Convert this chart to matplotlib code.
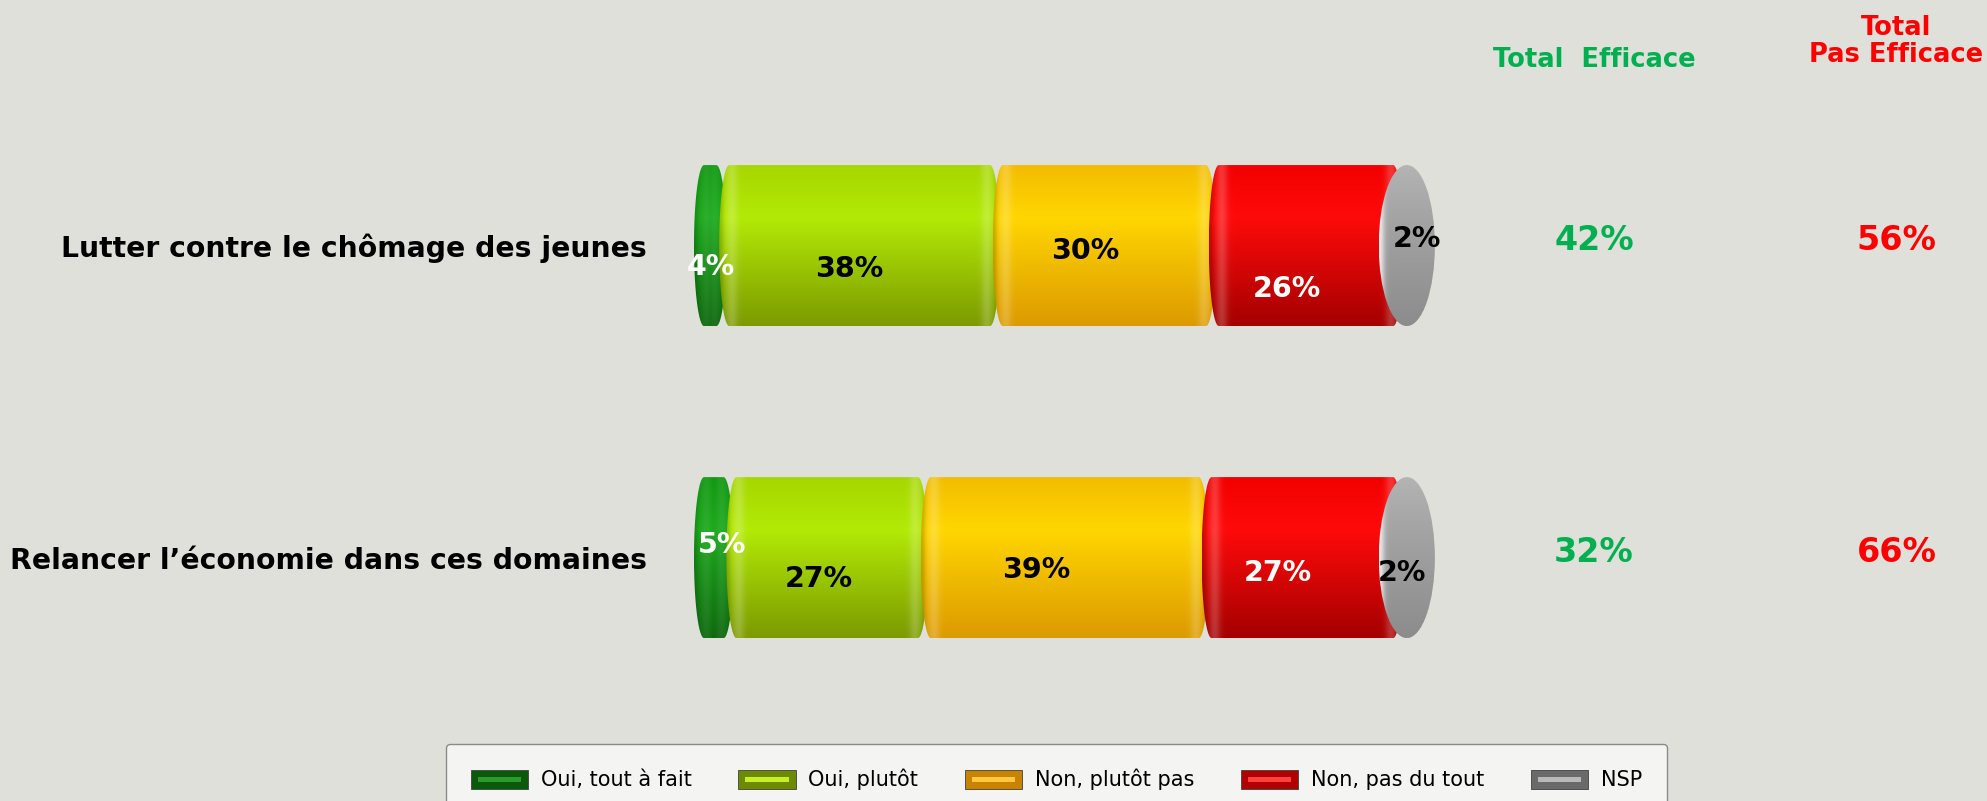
import numpy as np
import matplotlib
matplotlib.use("Agg")
import matplotlib.pyplot as plt
from matplotlib.path import Path
from matplotlib.patches import PathPatch, Ellipse, Patch, Rectangle
from matplotlib.legend_handler import HandlerBase
from matplotlib.colors import to_rgb

# ---------------- data ----------------
categories = ["Lutter contre le chômage des jeunes",
              "Relancer l’économie dans ces domaines"]
series_names = ["Oui, tout à fait", "Oui, plutôt", "Non, plutôt pas",
                "Non, pas du tout", "NSP"]
oui_tout_a_fait = [4, 5]
oui_plutot = [38, 27]
non_plutot_pas = [30, 39]
non_pas_du_tout = [26, 27]
nsp = [2, 2]
total_efficace = [42, 32]
total_pas_efficace = [56, 66]

# ---------------- style ----------------
BG = "#dfe0da"
# (top, highlight, bottom) shades for cylinder look
shades = [
    ("#0f960f", "#1aa81a", "#0a660a"),
    ("#a6d600", "#b2ea06", "#7c9a00"),
    ("#f2bc00", "#ffd600", "#dc9a00"),
    ("#f20000", "#ff0a0a", "#a40000"),
    ("#b4b4b4", "#a4a4a4", "#8c8c8c"),
]
label_colors = ["white", "black", "black", "white", "black"]
# label offsets (dx in %, dy in bar units) per category, per series
label_offsets = [
    [(0.3, 0.07), (-1.4, 0.075), (-2.7, 0.018), (-2.7, 0.14), (1.4, -0.022)],
    [(1.4, -0.041), (-1.2, 0.069), (-4.0, 0.040), (-3.4, 0.048), (-0.7, 0.048)],
]
BAR_H = 0.516
RX = 1.4          # half width of the elliptical segment ends (in %)
CAP_HALF = 3.9    # half width of the end cap ellipse (in %)
FONT_LBL = 20.5

values = np.array([oui_tout_a_fait, oui_plutot, non_plutot_pas,
                   non_pas_du_tout, nsp], dtype=float)  # series x category

fig = plt.figure(figsize=(19.87, 8.01), dpi=100)
fig.patch.set_facecolor(BG)
ax = fig.add_axes([694 / 1987, 0, 792 / 1987, 1])
ax.set_facecolor("none")
ax.set_xlim(0, 110)
ax.set_ylim(1.780, -0.787)
for s in ax.spines.values():
    s.set_visible(False)
ax.set_xticks([])
ax.set_yticks(range(len(categories)))
ax.set_yticklabels(categories, fontsize=20.3, fontweight="bold", color="black")
ax.tick_params(axis="y", length=0, pad=34)


def capsule_path(x0, x1, yc, h, rx, n=60):
    th = np.linspace(-np.pi / 2, np.pi / 2, n)
    right = np.column_stack([x1 - rx + rx * np.cos(th), yc + h / 2 * np.sin(th)])
    th2 = np.linspace(np.pi / 2, 3 * np.pi / 2, n)
    left = np.column_stack([x0 + rx + rx * np.cos(th2), yc + h / 2 * np.sin(th2)])
    verts = np.vstack([right, left, right[:1]])
    codes = [Path.MOVETO] + [Path.LINETO] * (len(verts) - 2) + [Path.CLOSEPOLY]
    return Path(verts, codes)


def vertical_profile(top, mid, bot, n=200):
    t = np.linspace(0, 1, n)
    stops = np.array([0.0, 0.33, 1.0])
    cols = np.array([to_rgb(top), to_rgb(mid), to_rgb(bot)])
    return np.column_stack([np.interp(t, stops, cols[:, k]) for k in range(3)])


def segment_image(x0, x1, shade, ncols=160, rim_amt=0.2):
    prof = vertical_profile(*shade)  # rows x 3
    xs = np.linspace(x0, x1, ncols)
    d = np.minimum(xs - x0, x1 - xs)
    rim = rim_amt * np.exp(-((d - 1.7) / 0.8) ** 2)
    edge = 0.18 * np.exp(-(d / 0.5) ** 2)
    img = prof[:, None, :] * (1 - edge[None, :, None])
    img = img + (1 - img) * rim[None, :, None]
    return np.clip(img, 0, 1)


for ci in range(len(categories)):
    yc = ci
    start = 0.0
    nser = values.shape[0]
    for si in range(nser):
        v = values[si, ci]
        if si < nser - 1:
            x0 = start - (0.0 if si == 0 else 0.5)
            x1 = start + v + 0.5
            path = capsule_path(x0, x1, yc, BAR_H, RX)
            patch = PathPatch(path, facecolor="none", edgecolor="none")
            ax.add_patch(patch)
            im = ax.imshow(segment_image(x0, x1, shades[si],
                                         rim_amt=0.08 if si == 0 else 0.2),
                           extent=(x0, x1, yc + BAR_H / 2, yc - BAR_H / 2),
                           origin="upper", aspect="auto", zorder=2 + si * 0.01,
                           interpolation="bilinear")
            im.set_clip_path(patch)
        else:
            cx = start + v / 2
            ell = Ellipse((cx, yc), 2 * CAP_HALF, BAR_H, facecolor="none",
                          edgecolor="none")
            ax.add_patch(ell)
            prof = vertical_profile(*shades[si])
            xs = np.linspace(0, 1, 100)
            light = 0.8 * np.exp(-(xs / 0.09) ** 2)
            img = prof[:, None, :] + (1 - prof[:, None, :]) * light[None, :, None]
            im = ax.imshow(np.clip(img, 0, 1),
                           extent=(cx - CAP_HALF, cx + CAP_HALF,
                                   yc + BAR_H / 2, yc - BAR_H / 2),
                           origin="upper", aspect="auto", zorder=3,
                           interpolation="bilinear")
            im.set_clip_path(ell)
        dx, dy = label_offsets[ci][si]
        ax.text(start + v / 2 + dx, yc + dy, f"{int(v)}%", ha="center",
                va="center", fontsize=FONT_LBL, fontweight="bold",
                color=label_colors[si], zorder=5)
        start += v

    ax.text(125, yc - 0.015, f"{total_efficace[ci]}%", ha="center",
            va="center", fontsize=24, fontweight="bold", color="#00b050")
    ax.text(167, yc - 0.015, f"{total_pas_efficace[ci]}%", ha="center",
            va="center", fontsize=24, fontweight="bold", color="#ff0000")

ax.text(125, -0.595, "Total  Efficace", ha="center", va="center",
        fontsize=18.5, fontweight="bold", color="#00b050")
ax.text(167, -0.655, "Total\nPas Efficace", ha="center", va="center",
        fontsize=18.5, fontweight="bold", color="#ff0000", linespacing=1.05)

# ---------------- legend ----------------
legend_shades = [
    ("#0b5a0b", "#2c9a2c"),
    ("#6e8a00", "#c8f020"),
    ("#c88400", "#ffc840"),
    ("#b00000", "#ff4040"),
    ("#6a6a6a", "#b8b8b8"),
]


class GradHandler(HandlerBase):
    def create_artists(self, legend, orig_handle, xdescent, ydescent,
                       width, height, fontsize, trans):
        idx = orig_handle.idx
        dark, light = legend_shades[idx]
        x0, y0 = -xdescent, -ydescent
        arts = [Rectangle((x0, y0), width, height, facecolor=dark,
                          edgecolor="#404040", linewidth=0.6, transform=trans)]
        arts.append(Rectangle((x0 + width * 0.12, y0 + height * 0.36),
                              width * 0.76, height * 0.28, facecolor=light,
                              edgecolor="none", transform=trans))
        return arts


handles = []
for i, name in enumerate(series_names):
    p = Patch(label=name)
    p.idx = i
    handles.append(p)

leg = fig.legend(handles=handles, labels=series_names, loc="upper center",
                 bbox_to_anchor=(0.5317, 1 - 744 / 801), ncol=5,
                 frameon=True, fancybox=True, fontsize=15,
                 handlelength=2.75, handleheight=1.0, handletextpad=0.6,
                 columnspacing=2.25, borderpad=1.2, borderaxespad=0,
                 facecolor="#f4f4f2", edgecolor="#8a8a8a", framealpha=1,
                 handler_map={Patch: GradHandler()})

fig.savefig("out.png", dpi=100, facecolor=BG)
